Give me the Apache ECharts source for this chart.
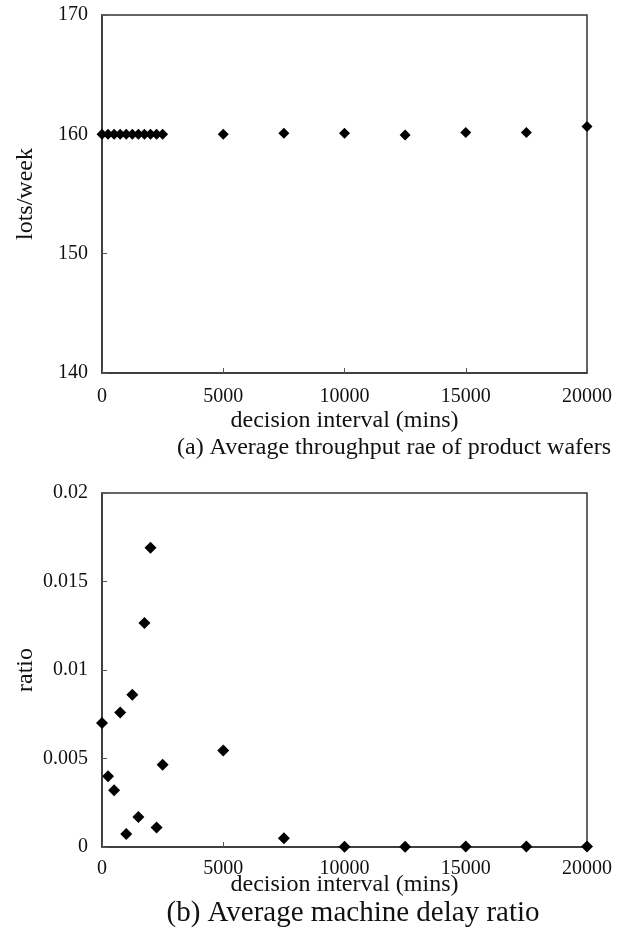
<!DOCTYPE html>
<html>
<head>
<meta charset="utf-8">
<script src="https://cdn.jsdelivr.net/npm/echarts@6/dist/echarts.min.js"></script>
<style>
  html, body { margin: 0; padding: 0; background: #fff; }
  #chart { width: 626px; height: 939px; }
</style>
</head>
<body>
<div id="chart"></div>
<script>
(function () {
  'use strict';

  // decision intervals (mins), shared by both panels
  const intervals = [0, 250, 500, 750, 1000, 1250, 1500, 1750, 2000, 2250, 2500,
    5000, 7500, 10000, 12500, 15000, 17500, 20000];

  // (a) average throughput rate, lots/week
  const throughput = [160, 160, 160, 160, 160, 160, 160, 160, 160, 160, 160,
    160.0, 160.1, 160.1, 159.95, 160.15, 160.15, 160.65];

  // (b) average machine delay ratio
  const delayRatio = [0.0070, 0.0040, 0.0032, 0.0076, 0.00074, 0.0086, 0.0017, 0.01265,
    0.0169, 0.0011, 0.00465, 0.00545, 0.0005, 0.00002, 0.00002, 0.00003, 0.00003, 0.00003];

  const xTicks = [0, 5000, 10000, 15000, 20000];
  const throughputTicks = [140, 150, 160, 170];
  const ratioTicks = [0, 0.005, 0.01, 0.015, 0.02];

  const chartEl = document.getElementById('chart');
  const chart = echarts.init(chartEl);

  const font = '"Liberation Serif", "DejaVu Serif", serif';
  const ink = '#111';
  const frame = '#333';

  function pairs(ys) {
    return intervals.map((x, i) => [x, ys[i]]);
  }

  function xAxisFor(gridIndex, labelMargin, nameGap) {
    return {
      gridIndex,
      type: 'value',
      min: xTicks[0],
      max: xTicks[xTicks.length - 1],
      interval: 5000,
      name: 'decision interval (mins)',
      nameLocation: 'middle',
      nameGap,
      nameMoveOverlap: false,
      nameTextStyle: { color: ink, fontFamily: font, fontSize: 24 },
      axisLine: { show: true, lineStyle: { color: frame, width: 1.5 } },
      axisTick: { show: true, inside: true, length: 5, lineStyle: { color: '#555' } },
      axisLabel: {
        color: ink,
        fontFamily: font,
        fontSize: 20,
        margin: labelMargin,
        formatter: (v) => String(v),
      },
      splitLine: { show: false },
    };
  }

  function yAxisFor(gridIndex, ticks, name, nameGap) {
    return {
      gridIndex,
      type: 'value',
      min: ticks[0],
      max: ticks[ticks.length - 1],
      interval: ticks[1] - ticks[0],
      name,
      nameLocation: 'middle',
      nameGap,
      nameMoveOverlap: false,
      nameTextStyle: { color: ink, fontFamily: font, fontSize: 24 },
      axisLine: { show: true, lineStyle: { color: frame, width: 1.5 } },
      axisTick: { show: true, inside: true, length: 5, lineStyle: { color: '#555' } },
      axisLabel: {
        color: ink,
        fontFamily: font,
        fontSize: 20,
        margin: 14,
        formatter: (v) => String(v),
      },
      splitLine: { show: false },
    };
  }

  const option = {
    backgroundColor: '#fff',
    animation: false,
    title: [
      {
        text: '(a) Average throughput rae of product wafers',
        left: 389,
        top: 431,
        textAlign: 'center',
        textStyle: { color: ink, fontFamily: font, fontSize: 24, fontWeight: 'normal' },
      },
      {
        text: '(b) Average machine delay ratio',
        left: 348,
        top: 894,
        textAlign: 'center',
        textStyle: { color: ink, fontFamily: font, fontSize: 29, fontWeight: 'normal' },
      },
    ],
    grid: [
      { left: 102, right: 39, top: 15, height: 358, show: true, borderColor: frame, borderWidth: 1.5 },
      { left: 102, right: 39, top: 493, height: 354, show: true, borderColor: frame, borderWidth: 1.5 },
    ],
    xAxis: [xAxisFor(0, 14, 36), xAxisFor(1, 12, 26)],
    yAxis: [
      yAxisFor(0, throughputTicks, 'lots/week', 64),
      yAxisFor(1, ratioTicks, 'ratio', 64),
    ],
    series: [
      {
        name: 'throughput',
        type: 'scatter',
        xAxisIndex: 0,
        yAxisIndex: 0,
        symbol: 'diamond',
        symbolSize: 11,
        clip: false,
        itemStyle: { color: '#000', opacity: 1 },
        data: pairs(throughput),
      },
      {
        name: 'delay ratio',
        type: 'scatter',
        xAxisIndex: 1,
        yAxisIndex: 1,
        symbol: 'diamond',
        symbolSize: 12,
        clip: false,
        itemStyle: { color: '#000', opacity: 1 },
        data: pairs(delayRatio),
      },
    ],
  };

  chart.setOption(option);
})();
</script>
</body>
</html>
